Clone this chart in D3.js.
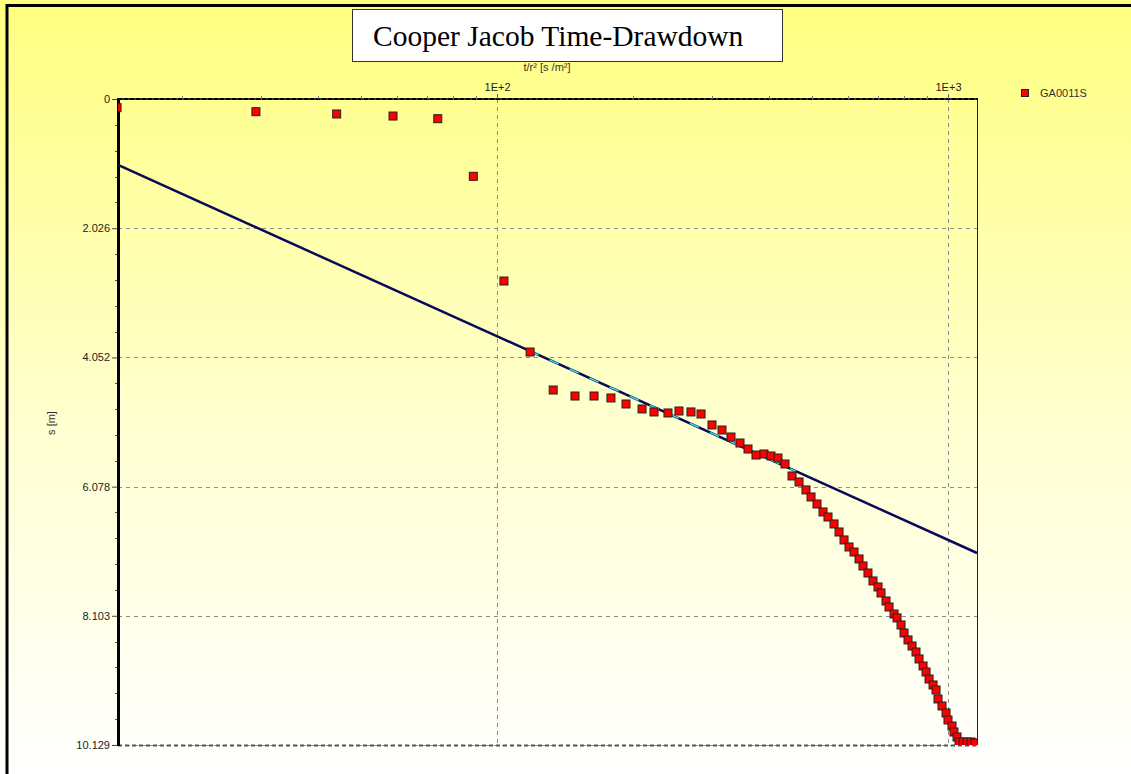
<!DOCTYPE html>
<html>
<head>
<meta charset="utf-8">
<script src="https://cdn.jsdelivr.net/npm/d3@7"></script>
<style>
  body { margin: 0; background: #fff; }
  text { font-family: Arial, "Liberation Sans", sans-serif; }
</style>
</head>
<body>
<svg width="1131" height="774"></svg>
<script>
// The data: time / r^2 and drawdown for well GA0011S
var tr2 = [14.37, 29.2, 44.1, 58.8, 73.9, 88.6, 103.6, 118.4, 133.2, 148.9,
  164.1, 178.9, 193.2, 209.7, 222.9, 239.4, 253.2, 269.2, 283.4, 299.7,
  315.4, 330.2, 345.8, 360.2, 375.2, 390.8, 405.0, 419.8, 435.1, 451.0,
  467.4, 484.3, 496.9, 512.3, 528.3, 541.9, 558.8, 573.3, 588.1, 603.3,
  618.9, 634.9, 647.9, 664.6, 681.8, 699.5, 710.3, 728.7, 740.0, 759.2,
  770.9, 786.8, 798.9, 815.4, 832.3, 849.3, 862.5, 880.4, 894.0, 907.8,
  926.5, 940.8, 950.2, 969.8, 990.0, 1000, 1020.6, 1031.1, 1047.1, 1057.8,
  1079.7, 1102.2, 1124.6, 1147.8];
var drawdown = [0.136, 0.199, 0.235, 0.267, 0.309, 1.212, 2.854, 3.967, 4.563, 4.657,
  4.657, 4.688, 4.782, 4.860, 4.907, 4.923, 4.892, 4.907, 4.939, 5.111,
  5.190, 5.300, 5.394, 5.488, 5.582, 5.566, 5.597, 5.629, 5.723, 5.911,
  6.005, 6.130, 6.240, 6.350, 6.475, 6.554, 6.663, 6.789, 6.914, 7.024,
  7.103, 7.212, 7.322, 7.432, 7.557, 7.651, 7.745, 7.871, 7.965, 8.075,
  8.137, 8.247, 8.373, 8.482, 8.577, 8.671, 8.780, 8.890, 8.984, 9.094,
  9.188, 9.266, 9.407, 9.517, 9.627, 9.737, 9.831, 9.925, 10.003, 10.082,
  10.082, 10.082, 10.082, 10.097];

// Straight line fit: s = a + b * log10(t/r2)
var fitA = -2.669, fitB = 3.194;
var fitRange = [14.44, 1159.6];
var fitMatch = [118, 460];

var yTicks = [0, 2.026, 4.052, 6.078, 8.103, 10.129];
var xTicks = [100, 1000];
var xTickLabels = ["1E+2", "1E+3"];

var seriesName = "GA0011S";
var title = "Cooper Jacob Time-Drawdown";

var svg = d3.select("svg"),
  width = +svg.attr("width"),
  height = +svg.attr("height");

var plot = { left: 118, top: 99, right: 977, bottom: 745 };

var x = d3.scaleLog()
  .domain([14.44, 1159.6])
  .range([plot.left, plot.right]);
var y = d3.scaleLinear()
  .domain([0, 10.129])
  .range([plot.top, plot.bottom]);

// background gradient
var defs = svg.append("defs");
var grad = defs.append("linearGradient")
  .attr("id", "bg").attr("x1", 0).attr("y1", 0).attr("x2", 0).attr("y2", 1);
grad.append("stop").attr("offset", "0%").attr("stop-color", "#ffff80");
grad.append("stop").attr("offset", "55%").attr("stop-color", "#ffffd0");
grad.append("stop").attr("offset", "100%").attr("stop-color", "#ffffff");
svg.append("rect").attr("x", 0).attr("y", 0).attr("width", width).attr("height", height)
  .attr("fill", "url(#bg)");

defs.append("clipPath").attr("id", "clip")
  .append("rect")
  .attr("x", plot.left).attr("y", plot.top)
  .attr("width", plot.right - plot.left).attr("height", plot.bottom - plot.top);

// outer frame (left and top only)
svg.append("path")
  .attr("d", "M7,774V5.5H1131")
  .attr("fill", "none").attr("stroke", "#000").attr("stroke-width", 3);

// grid
var grid = svg.append("g");
grid.selectAll(".hgrid")
  .data(yTicks.slice(1))
  .enter().append("line")
    .attr("x1", plot.left).attr("x2", plot.right)
    .attr("y1", function(d) { return Math.round(y(d)) + 0.5; })
    .attr("y2", function(d) { return Math.round(y(d)) + 0.5; })
    .attr("stroke", "#8c8c8c").attr("stroke-dasharray", "4,4");
grid.selectAll(".vgrid")
  .data(xTicks)
  .enter().append("line")
    .attr("x1", function(d) { return Math.round(x(d)) + 0.5; })
    .attr("x2", function(d) { return Math.round(x(d)) + 0.5; })
    .attr("y1", plot.top).attr("y2", plot.bottom)
    .attr("stroke", "#8c8c8c").attr("stroke-dasharray", "4,4");

// bottom line
svg.append("line")
  .attr("x1", plot.left).attr("x2", plot.right)
  .attr("y1", plot.bottom + 0.5).attr("y2", plot.bottom + 0.5)
  .attr("stroke", "#555").attr("stroke-width", 2).attr("stroke-dasharray", "4,3");
// right frame
svg.append("line")
  .attr("x1", plot.right + 0.5).attr("x2", plot.right + 0.5)
  .attr("y1", plot.top).attr("y2", plot.bottom)
  .attr("stroke", "#222").attr("stroke-width", 1);
// top frame
svg.append("line")
  .attr("x1", plot.left).attr("x2", plot.right + 1)
  .attr("y1", plot.top).attr("y2", plot.top)
  .attr("stroke", "#333").attr("stroke-width", 2);
svg.append("line")
  .attr("x1", plot.left).attr("x2", plot.right + 1)
  .attr("y1", plot.top).attr("y2", plot.top)
  .attr("stroke", "#000").attr("stroke-width", 2).attr("stroke-dasharray", "4,2");

// y axis (left)
var yAxis = d3.axisLeft(y)
  .tickValues(yTicks)
  .tickSize(6)
  .tickPadding(2)
  .tickFormat(function(d) { return d === 0 ? "0" : d3.format(".3f")(d); });
var gy = svg.append("g")
  .attr("transform", "translate(" + plot.left + ",0)")
  .call(yAxis);
gy.select(".domain").remove();
gy.selectAll("line").attr("stroke", "#444");
gy.selectAll("text").attr("font-size", 11).attr("fill", "#222");

// minor y ticks
var yMinor = [];
yTicks.slice(0, -1).forEach(function(t, i) {
  var step = (yTicks[i + 1] - t) / 5;
  for (var k = 1; k < 5; k++) yMinor.push(t + k * step);
});
svg.append("g").selectAll("line")
  .data(yMinor)
  .enter().append("line")
    .attr("x1", plot.left - 3).attr("x2", plot.left)
    .attr("y1", function(d) { return Math.round(y(d)) + 0.5; })
    .attr("y2", function(d) { return Math.round(y(d)) + 0.5; })
    .attr("stroke", "#555");

svg.append("line")
  .attr("x1", plot.left + 0.5).attr("x2", plot.left + 0.5)
  .attr("y1", plot.top - 1).attr("y2", plot.bottom + 1)
  .attr("stroke", "#000").attr("stroke-width", 3);

// x axis (top)
var xAxis = d3.axisTop(x)
  .tickValues(xTicks)
  .tickSize(5)
  .tickPadding(3)
  .tickFormat(function(d, i) { return xTickLabels[i]; });
var gx = svg.append("g")
  .attr("transform", "translate(0," + plot.top + ")")
  .call(xAxis);
gx.select(".domain").remove();
gx.selectAll("line").attr("stroke", "#666");
gx.selectAll("text").attr("font-size", 11).attr("fill", "#222");

var xMinor = [];
[10, 100, 1000].forEach(function(dec) {
  for (var k = 2; k < 10; k++) {
    var v = dec * k;
    if (v > 14.44 && v < 1159.6) xMinor.push(v);
  }
});
svg.append("g").selectAll("line")
  .data(xMinor)
  .enter().append("line")
    .attr("x1", function(d) { return Math.round(x(d)) + 0.5; })
    .attr("x2", function(d) { return Math.round(x(d)) + 0.5; })
    .attr("y1", plot.top - 3).attr("y2", plot.top)
    .attr("stroke", "#777");

// axis titles
svg.append("text")
  .attr("x", 547).attr("y", 71)
  .attr("text-anchor", "middle")
  .attr("font-size", 11).attr("fill", "#333")
  .text("t/r\u00b2 [s /m\u00b2]");
svg.append("text")
  .attr("transform", "translate(55,423) rotate(-90)")
  .attr("text-anchor", "middle")
  .attr("font-size", 11).attr("fill", "#333")
  .text("s [m]");

// fit line
var plotArea = svg.append("g").attr("clip-path", "url(#clip)");
var fitLine = d3.line()
  .x(function(d) { return x(d); })
  .y(function(d) { return y(fitA + fitB * Math.log10(d)); });
plotArea.append("path")
  .attr("d", fitLine(fitRange))
  .attr("fill", "none").attr("stroke", "#0a0a5a").attr("stroke-width", 2.5);
plotArea.append("path")
  .attr("d", fitLine(fitMatch))
  .attr("fill", "none").attr("stroke", "#3ee0e0").attr("stroke-width", 1.5)
  .attr("stroke-dasharray", "10,12");

// data points
var pts = tr2.map(function(t, i) { return { t: t, s: drawdown[i] }; });
plotArea.selectAll("rect.pt")
  .data(pts)
  .enter().append("rect")
    .attr("class", "pt")
    .attr("x", function(d) { return x(d.t) - 4; })
    .attr("y", function(d) { return y(d.s) - 4; })
    .attr("width", 8).attr("height", 8)
    .attr("fill", "#ff0000")
    .attr("stroke", "#222").attr("stroke-width", 1);

// legend
svg.append("rect")
  .attr("x", 1021.5).attr("y", 89.5).attr("width", 7).attr("height", 7)
  .attr("fill", "#ff0000").attr("stroke", "#222");
svg.append("text")
  .attr("x", 1040).attr("y", 97)
  .attr("font-size", 11).attr("fill", "#333")
  .text(seriesName);

// title box
svg.append("rect")
  .attr("x", 352.5).attr("y", 9.5).attr("width", 430).attr("height", 52)
  .attr("fill", "#fff").attr("stroke", "#333").attr("stroke-width", 1);
svg.append("text")
  .attr("x", 373).attr("y", 46)
  .style("font-family", "'Liberation Serif', 'Times New Roman', serif")
  .attr("font-size", 29.5).attr("fill", "#000")
  .text(title);
</script>
</body>
</html>
